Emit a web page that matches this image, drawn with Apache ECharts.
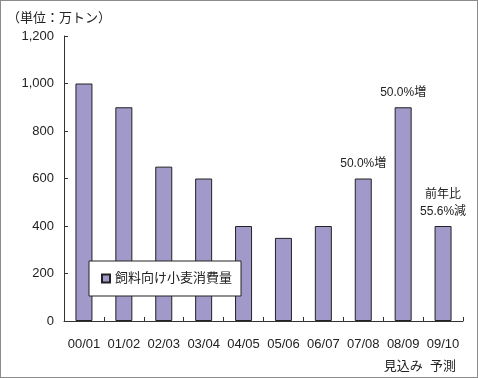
<!DOCTYPE html>
<html><head><meta charset="utf-8">
<script src="https://cdn.jsdelivr.net/npm/echarts@6/dist/echarts.min.js"></script>
<style>
html,body{margin:0;padding:0;background:#fff;}
#c{width:476px;height:376px;border:1px solid #8c8c8c;}
</style></head><body>
<div id="c"></div>
<script>
const categories = ['00/01','01/02','02/03','03/04','04/05','05/06','06/07','07/08','08/09','09/10'];
const subLabels = ['','','','','','','','','見込み','予測'];
const values = [1000, 900, 650, 600, 400, 350, 400, 600, 900, 400];
const notes = ['','','','','','','','50.0%増','50.0%増','前年比\n55.6%減'];
const yTicks = [0, 200, 400, 600, 800, 1000, 1200];
const seriesName = '飼料向け小麦消費量';
const unitText = '（単位：万トン）';

const FONT = 'Liberation Sans, Noto Sans CJK JP, sans-serif';
const chart = echarts.init(document.getElementById('c'), null, {renderer:'canvas'});
chart.setOption({
  backgroundColor:'#fff',
  animation:false,
  textStyle:{fontFamily:FONT},
  title:{text:unitText, left:1, top:6, textStyle:{fontSize:13, fontWeight:'normal', color:'#222', fontFamily:FONT}},
  grid:{left:63, right:14, top:35, bottom:56, containLabel:false},
  legend:{
    data:[seriesName], left:88, top:260, orient:'horizontal',
    backgroundColor:'#fff', borderColor:'#222', borderWidth:1,
    padding:[11,9,11,12], itemWidth:8, itemHeight:8, itemGap:5,
    icon:'rect',
    textStyle:{fontSize:13, color:'#222', fontFamily:FONT}
  },
  xAxis:{
    type:'category', data:categories.map((c,i)=> subLabels[i] ? c + '\n' + subLabels[i] : c),
    axisLine:{lineStyle:{color:'#333', width:1}},
    axisTick:{show:true, inside:true, length:4, alignWithLabel:false, lineStyle:{color:'#333'}},
    axisLabel:{fontSize:13, color:'#222', margin:12, lineHeight:22, fontFamily:FONT, interval:0}
  },
  yAxis:{
    type:'value', min:yTicks[0], max:yTicks[yTicks.length-1], interval:200,
    axisLine:{show:true, lineStyle:{color:'#333', width:1}},
    axisTick:{show:true, inside:true, length:4, lineStyle:{color:'#333'}},
    splitLine:{show:false},
    axisLabel:{fontSize:13, color:'#222', margin:10, fontFamily:FONT,
      formatter:v=>v.toLocaleString('en-US')}
  },
  series:[{
    name:seriesName, type:'bar', barWidth:17,
    data:values.map((v,i)=>({value:v, label:{show:!!notes[i], formatter:notes[i]}})),
    itemStyle:{color:'#a099c9', borderColor:'#222', borderWidth:1},
    label:{position:'top', distance:6, fontSize:12, color:'#222', lineHeight:17, fontFamily:FONT}
  }]
});
</script>
</body></html>
